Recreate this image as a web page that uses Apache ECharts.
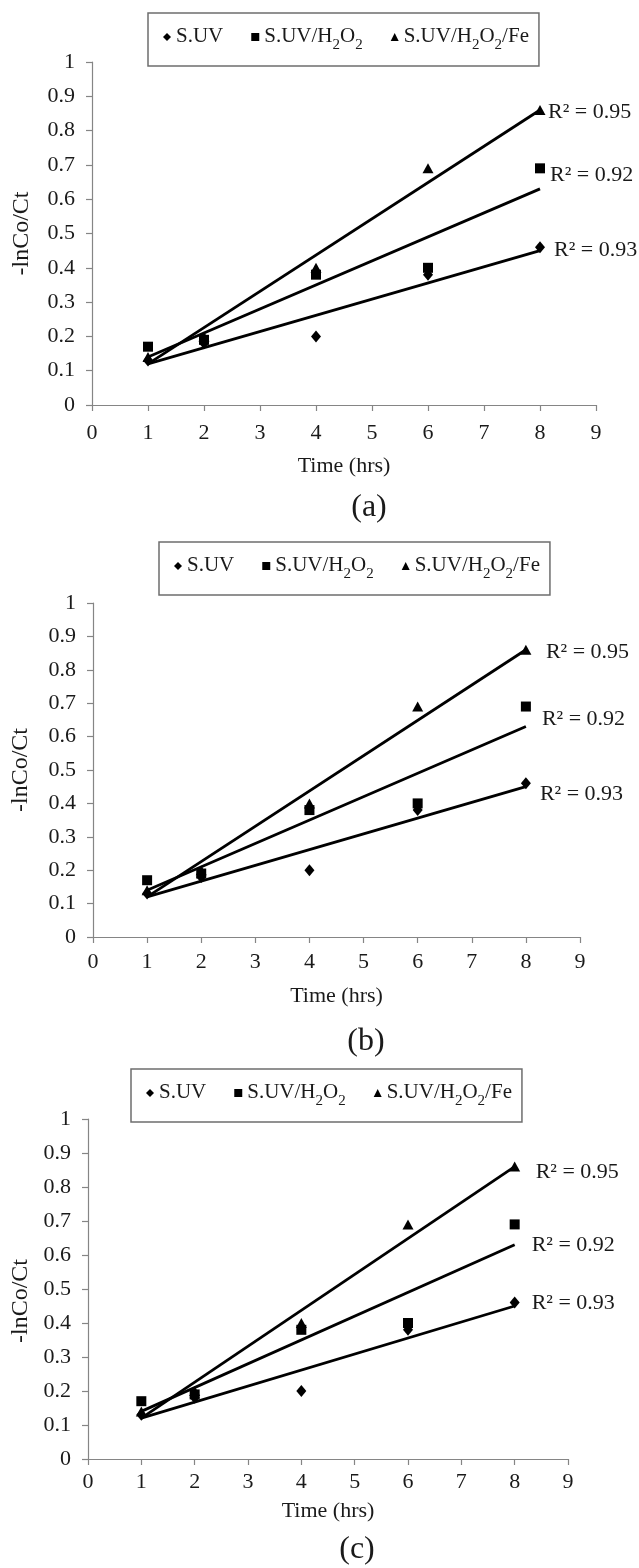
<!DOCTYPE html>
<html>
<head>
<meta charset="utf-8">
<script src="https://cdn.jsdelivr.net/npm/echarts@6/dist/echarts.min.js"></script>
<style>
  html,body{margin:0;padding:0;background:#fff;}
  #kinetics{width:639px;height:1568px;}
</style>
</head>
<body>
<div id="kinetics"></div>
<script>
  // sampling times (hrs) and -ln(Co/Ct) readings
  let hours = [1, 2, 4, 6, 8]
  let seriesNames = ['S.UV', 'S.UV/H2O2', 'S.UV/H2O2/Fe']
  let suv = [0.13, 0.18, 0.20, 0.38, 0.46]
  let suvH2o2 = [0.17, 0.19, 0.38, 0.40, 0.69]
  let suvH2o2Fe = [0.14, 0.20, 0.40, 0.69, 0.86]

  // linear trend lines: value at first and last hour
  let fitHours = [1, 8]
  let fitSuv = [0.12, 0.45]
  let fitH2o2 = [0.14, 0.63]
  let fitFe = [0.12, 0.86]
  let r2 = ['0.93', '0.92', '0.95']

  // axis ticks
  let xTicks = {min: 0, max: 9, step: 1}
  let yTicks = {min: 0, max: 1, step: 0.1}

  let font = "'Liberation Serif', 'Times New Roman', serif"
  let ink = '#1a1a1a'
  let axisGray = '#858585'

  let points = [suv, suvH2o2, suvH2o2Fe]
  let fits = [fitSuv, fitH2o2, fitFe]
  let symbols = ['diamond', 'rect', 'triangle']
  let symbolSizes = [[10, 12], [10, 10], [11, 10]]
  let legendLabels = [
    '{n|S.UV}',
    '{n|S.UV/H}{s|2}{n|O}{s|2}',
    '{n|S.UV/H}{s|2}{n|O}{s|2}{n|/Fe}'
  ]

  // the three panels are the same plot drawn at slightly different sizes
  let panels = [
    {tag: '(a)', grid: {left: 92, top: 62, width: 504, height: 343}, legend: {left: 148, top: 13},
      xMargin: 17, xGap: 50, yGap: 58, yPad: 0, caption: [369, 508],
      r2Offset: [[6, 0], [2, -14], [0, 2]]},
    {tag: '(b)', grid: {left: 93, top: 603, width: 487, height: 334}, legend: {left: 159, top: 542},
      xMargin: 14, xGap: 48, yGap: 60, yPad: 0, caption: [366, 1042],
      r2Offset: [[6, 8], [8, -7], [12, 2]]},
    {tag: '(c)', grid: {left: 88, top: 1119, width: 480, height: 340}, legend: {left: 131, top: 1069},
      xMargin: 12, xGap: 41, yGap: 54, yPad: 24, caption: [357, 1550],
      r2Offset: [[9, -3], [9, 0], [13, 6]]}
  ]

  function axisBase() {
    return {
      axisLine: {show: true, lineStyle: {color: axisGray, width: 1.2}},
      axisTick: {show: true, inside: false, length: 6, lineStyle: {color: axisGray, width: 1.2}},
      splitLine: {show: false},
      axisLabel: {fontFamily: font, fontSize: 22, color: ink}
    }
  }

  let option = {
    backgroundColor: '#fff',
    animation: false,
    grid: [], xAxis: [], yAxis: [], legend: [], series: [], graphic: []
  }

  panels.forEach(function (p, k) {
    option.grid.push(Object.assign({containLabel: false}, p.grid))

    let xa = axisBase()
    option.xAxis.push(Object.assign(xa, {
      type: 'value', gridIndex: k,
      min: xTicks.min, max: xTicks.max, interval: xTicks.step,
      name: 'Time (hrs)', nameLocation: 'middle', nameGap: p.xGap,
      nameTextStyle: {fontFamily: font, fontSize: 22, color: ink},
      axisLabel: Object.assign(xa.axisLabel, {margin: p.xMargin})
    }))

    let ya = axisBase()
    option.yAxis.push(Object.assign(ya, {
      type: 'value', gridIndex: k,
      min: yTicks.min, max: yTicks.max, interval: yTicks.step,
      name: '-lnCo/Ct', nameLocation: 'middle', nameRotate: 90, nameGap: p.yGap,
      nameTextStyle: {fontFamily: font, fontSize: 24, color: ink, padding: [0, p.yPad, 0, 0]},
      axisLabel: Object.assign(ya.axisLabel, {
        margin: 17,
        formatter: function (v) { return String(parseFloat(v.toFixed(1))) }
      })
    }))

    option.legend.push({
      left: p.legend.left, top: p.legend.top,
      orient: 'horizontal',
      padding: [13, 10, 13, 15],
      itemGap: 28, itemWidth: 8, itemHeight: 8,
      borderColor: '#6e6e6e', borderWidth: 1.5, borderRadius: 0,
      selectedMode: false,
      data: seriesNames.map(function (n, i) {
        return {name: n, icon: symbols[i], itemStyle: {color: '#000'}}
      }),
      formatter: function (name) { return legendLabels[seriesNames.indexOf(name)] },
      textStyle: {
        fontFamily: font, fontSize: 21, color: ink,
        rich: {
          n: {fontFamily: font, fontSize: 21, color: ink, lineHeight: 22, verticalAlign: 'top'},
          s: {fontFamily: font, fontSize: 15, color: ink, lineHeight: 12, padding: [12, 0, 0, 0], verticalAlign: 'top'}
        }
      }
    })

    seriesNames.forEach(function (name, i) {
      option.series.push({
        name: name, type: 'scatter', xAxisIndex: k, yAxisIndex: k,
        symbol: symbols[i], symbolSize: symbolSizes[i],
        itemStyle: {color: '#000', opacity: 1},
        data: hours.map(function (h, j) { return [h, points[i][j]] }),
        z: 3
      })
      option.series.push({
        name: 'fit ' + name, type: 'line', xAxisIndex: k, yAxisIndex: k,
        showSymbol: false, symbol: 'none', silent: true,
        lineStyle: {color: '#000', width: 2.8},
        data: fitHours.map(function (h, j) { return [h, fits[i][j]] }),
        endLabel: {
          show: true, formatter: 'R\u00b2 = ' + r2[i],
          offset: p.r2Offset[i],
          fontFamily: font, fontSize: 22, color: ink
        },
        z: 2
      })
    })

    option.graphic.push({
      type: 'text', x: p.caption[0], y: p.caption[1],
      style: {text: p.tag, fontFamily: font, fontSize: 32, fill: ink, align: 'center', verticalAlign: 'middle'}
    })
  })

  let myChart = echarts.init(document.getElementById('kinetics'))
  myChart.setOption(option)
</script>
</body>
</html>
